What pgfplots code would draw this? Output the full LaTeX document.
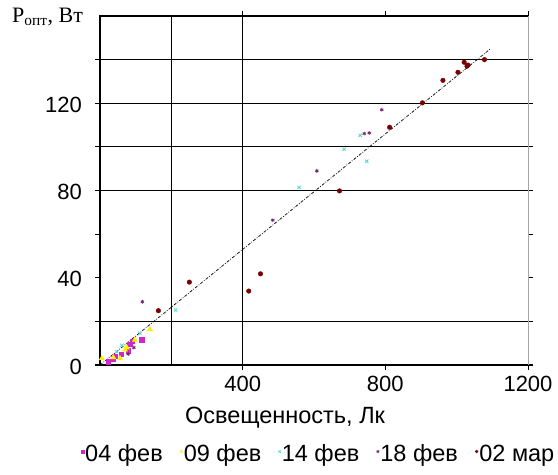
\documentclass[border=0pt]{standalone}
\usepackage{pgfplots}
\pgfplotsset{compat=1.18}
\usepackage{fontspec}
\setmainfont{Liberation Sans}
\newfontfamily\serif{Liberation Serif}
\definecolor{cMag}{RGB}{205,40,205}
\definecolor{cYel}{RGB}{255,240,0}
\definecolor{cCya}{RGB}{70,215,215}
\definecolor{cPur}{RGB}{120,40,120}
\definecolor{cRed}{RGB}{120,0,0}
\begin{document}
\fontsize{21bp}{25bp}\selectfont
\begin{tikzpicture}
\useasboundingbox (-100bp,-110bp) rectangle (458bp,365bp);
\begin{axis}[
  at={(0,0)}, anchor=origin,
  scale only axis, width=428bp, height=349bp,
  xmin=0, xmax=1200, ymin=0, ymax=160,
  axis line style={draw=none},
  xtick={400,800,1200},
  ytick={0,20,...,140},
  yticklabels={0,,40,,80,,120,},
  /pgf/number format/assume math mode=true,
  /pgf/number format/1000 sep={},
  tick label style={font=\fontsize{22bp}{26bp}\selectfont},
  xtick style={draw=black, line width=0.8bp},
  ytick style={draw=black, line width=1.1bp},
  tick align=outside,
  major tick length=5bp,
  xticklabel style={yshift=1bp},
  yticklabel style={xshift=-6bp, yshift=-1.5bp},
  legend style={draw=none, fill=none, at={(0.51,-0.258)}, anchor=center,
    font=\fontsize{23.5bp}{27bp}\selectfont, inner sep=0pt,
    nodes={inner sep=1.2bp},
    /tikz/every even column/.append style={column sep=16bp}},
  legend columns=-1,
  legend image code/.code={\draw[#1, only marks, mark size=1.5bp] plot coordinates {(0bp,3.5bp)};},
  clip=false,
]
% grid lines and frame
\draw[black, line width=1.2bp] (axis cs:200,0) -- (axis cs:200,160);
\draw[black, line width=1.2bp] (axis cs:400,0) -- (axis cs:400,160);
\draw[black, line width=1.2bp] (axis cs:0,20) -- (axis cs:1200,20);
\draw[black, line width=1.2bp] (axis cs:0,80) -- (axis cs:1200,80);
\draw[black, line width=1.2bp] (axis cs:0,100) -- (axis cs:1200,100);
\draw[black, line width=1.2bp] (axis cs:0,120) -- (axis cs:1200,120);
\draw[black, line width=1.2bp] (axis cs:0,140) -- (axis cs:1200,140);
\draw[black, line width=1.2bp] (axis cs:1200,0) -- (axis cs:0,0) -- (axis cs:0,160) -- (axis cs:1200,160);
\draw[gray!70, line width=1bp] (axis cs:1200,0) -- (axis cs:1200,160);

\addplot[only marks, mark=square*, mark size=2.3bp, color=cMag] coordinates {
(23,1.5) (37,3) (42,4) (60,5) (79,6.5) (84,9.5) (90,11) (117,11.5)};
\addlegendentry{04 фев}
\addplot[only marks, mark=triangle*, mark size=3bp, color=cYel] coordinates {
(5,3) (37,3.5) (56,3) (70,7) (75,8) (98,11.5) (140,16.3)};
\addlegendentry{09 фев}
\addplot[only marks, mark=x, mark size=2.3bp, color=cCya, line width=0.8bp] coordinates {
(47,6.1) (61,9) (112,14.5) (212,25.2) (558,81.4) (684.6,98.9) (729.5,105.3) (748,93.4)};
\addlegendentry{14 фев}
\addplot[only marks, mark=asterisk, mark size=1.9bp, color=cPur, line width=0.8bp] coordinates {
(79,5) (95,8) (118.8,29) (484.5,66.4) (608,89) (741,106.1) (755,106.4) (790,117)};
\addlegendentry{18 фев}
\addplot[only marks, mark=*, mark size=2.3bp, color=cRed] coordinates {
(163.7,24.9) (250.6,38) (417,33.9) (450,41.8) (671.5,79.8) (812,109) (904,120.2)
(961.5,130.5) (1003.6,134.2) (1021,138.8) (1029,137) (1032,137.5) (1078,140)};
\addlegendentry{02 мар}
\addplot[black, line width=0.7bp, dash pattern=on 3bp off 1.5bp on 0.8bp off 1.5bp, forget plot] coordinates {(0,0) (1095,145)};
\end{axis}
\node[anchor=west, inner sep=0pt] at (-88bp,348bp) {\serif\fontsize{22bp}{26bp}\selectfont P\textsubscript{опт}, Вт};
\node[anchor=center, inner sep=0pt] at (185bp,-53bp) {\fontsize{23.5bp}{27bp}\selectfont Освещенность, Лк};
\end{tikzpicture}
\end{document}
